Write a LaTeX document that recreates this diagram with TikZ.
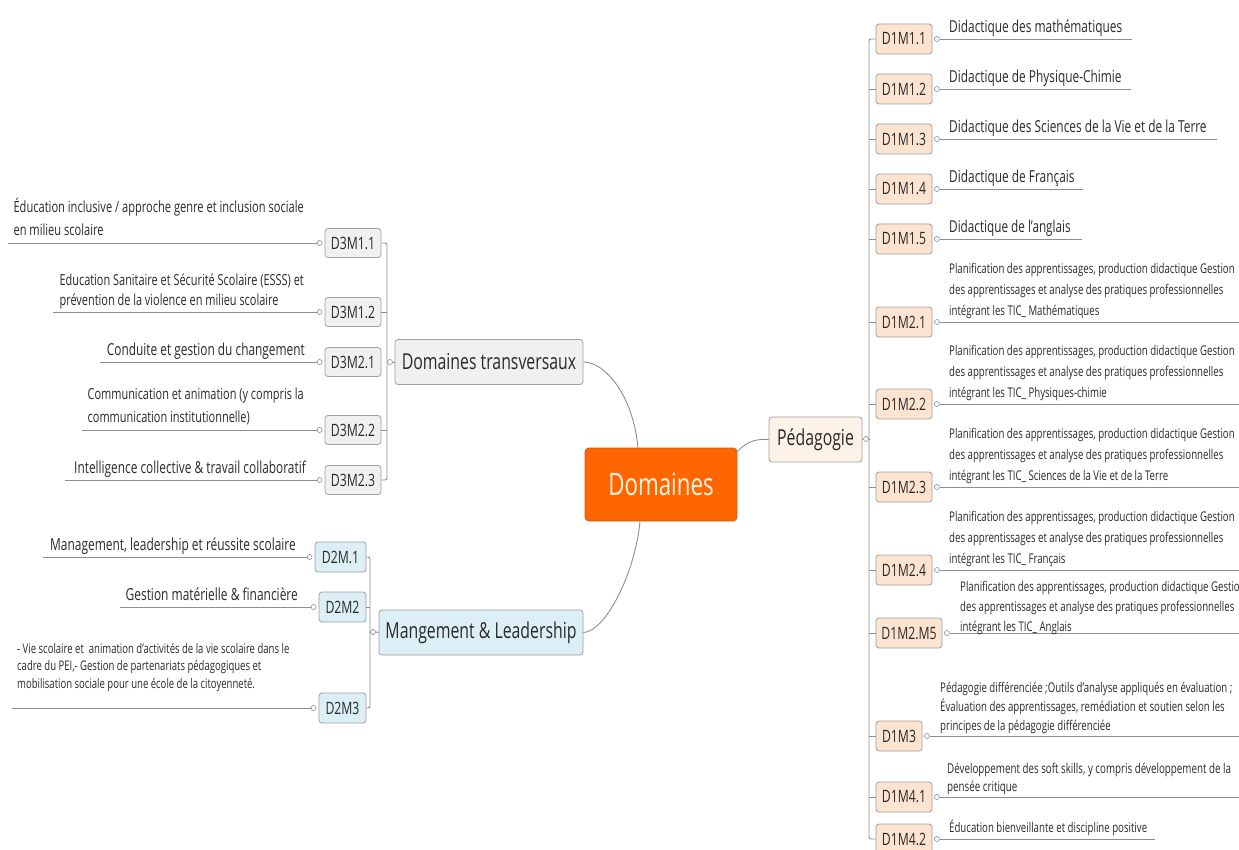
\documentclass[tikz,border=0pt]{standalone}
\usepackage{fontspec}
\setmainfont[FakeStretch=0.72]{Open Sans}
\definecolor{orng}{HTML}{FF6600}
\definecolor{orngdk}{HTML}{C8581A}
\definecolor{domtxt}{HTML}{FFF4E6}
\definecolor{peach}{HTML}{FDE4D0}
\definecolor{peachlt}{HTML}{FDF2E8}
\definecolor{grayfill}{HTML}{F0F0F0}
\definecolor{bluefill}{HTML}{DCEEF6}
\definecolor{bordergray}{HTML}{A0A0A0}
\definecolor{linegray}{HTML}{8E8E8E}
\definecolor{txt}{HTML}{2A2A2A}
\newcommand{\fsz}[2]{\fontsize{#1}{#2}\selectfont}
\begin{document}
\begin{tikzpicture}[x=1pt,y=-1pt,
  box/.style={draw=bordergray, line width=0.8pt, rounded corners=3pt, inner sep=0pt, text=txt, font=\fsz{17}{20}},
  dombox/.style={draw=orngdk, fill=orng, line width=0.8pt, rounded corners=4pt, text=domtxt, minimum width=152pt, minimum height=73pt, font=\fsz{31}{36}},
  midbox/.style={box, minimum height=45pt, font=\fsz{22}{26}},
  d1box/.style={box, fill=peach, minimum height=30pt},
  d2box/.style={box, fill=bluefill, minimum height=30pt},
  d3box/.style={box, fill=grayfill, minimum height=29pt},
  knob/.style={circle, draw=linegray, fill=white, line width=0.6pt, minimum size=5pt, inner sep=0pt},
  conn/.style={draw=linegray, line width=0.9pt},
  leafl/.style={anchor=south east, inner sep=0pt, align=left, text=txt},
  leafr/.style={anchor=south west, inner sep=0pt, align=left, text=txt}]
\useasboundingbox[fill=white] (0,0) rectangle (1239,850);

% ---- central and main branches
\node[dombox] (dom) at (661,484.5) {Domaines};
\node[midbox, fill=peachlt, minimum width=93pt] (ped) at (815.5,439.5) {Pédagogie};
\node[midbox, fill=grayfill, minimum width=188pt] (dt) at (489,362) {Domaines transversaux};
\node[midbox, fill=bluefill, minimum width=204pt] (ml) at (481,632.5) {Mangement \& Leadership};

\draw[conn] (dt.east) .. controls (605,362) and (633,395) .. ([xshift=-23pt]dom.north);
\draw[conn] ([xshift=-21pt]dom.south) .. controls (635,574) and (605,632) .. (ml.east);
\draw[conn] ([yshift=-4pt]dom.north east) .. controls (748,440) and (758,439) .. (ped.west);

% ---- knobs of main branches
\node[knob] (kped) at (866,439) {};
\node[knob] (kdt) at (390,362) {};
\node[knob] (kml) at (373,632) {};
\coordinate (b1) at (869,439);
\coordinate (b3) at (387,362);
\coordinate (b2) at (370,632);
\draw[conn] (ped.east) -- (kped.west);
\draw[conn] (kped.east) -- (b1);
\draw[conn] (dt.west) -- (kdt.east);
\draw[conn] (kdt.west) -- (b3);
\draw[conn] (ml.west) -- (kml.east);
\draw[conn] (kml.west) -- (b2);

% ==== Domaines transversaux children
\node[d3box, minimum width=56pt] (d31) at (353,243) {D3M1.1};
\node[d3box, minimum width=56pt] (d32) at (353,312) {D3M1.2};
\node[d3box, minimum width=56pt] (d33) at (353,362) {D3M2.1};
\node[d3box, minimum width=56pt] (d34) at (353,430) {D3M2.2};
\node[d3box, minimum width=56pt] (d35) at (353,480) {D3M2.3};
\draw[conn, rounded corners=2pt] (d31.east) -| (b3) |- (d35.east);
\draw[conn] (d32.east) -- (d32.east -| b3);
\draw[conn] (d34.east) -- (d34.east -| b3);
\foreach \i in {1,...,5} {\node[knob] (k3\i) at ([xshift=-5pt]d3\i.west) {};}
\coordinate (e31) at (8,243);
\coordinate (e32) at (53,312);
\coordinate (e33) at (100,362);
\coordinate (e34) at (82,430);
\coordinate (e35) at (65,480);
\foreach \i in {1,...,5} {\draw[conn] (k3\i.west) -- (e3\i);}
\node[leafl, font=\fsz{15.4}{23}] (l31) at (304,243) {Éducation inclusive / approche genre et inclusion sociale\\en milieu scolaire\strut};
\node[leafl, font=\fsz{15.2}{20}] (l32) at (304,312) {Education Sanitaire et Sécurité Scolaire (ESSS) et\\prévention de la violence en milieu scolaire\strut};
\node[leafl, font=\fsz{16.5}{21}] (l33) at (305,362) {Conduite et gestion du changement\strut};
\node[leafl, font=\fsz{15.2}{23}] (l34) at (304,430) {Communication et animation (y compris la\\communication institutionnelle)\strut};
\node[leafl, font=\fsz{16.5}{21}] (l35) at (306,480) {Intelligence collective \& travail collaboratif\strut};

% ==== Management children
\node[d2box, minimum width=51pt] (d21) at (340.5,557) {D2M.1};
\node[d2box, minimum width=47pt] (d22) at (342.5,607) {D2M2};
\node[d2box, minimum width=47pt] (d23) at (342.5,708) {D2M3};
\draw[conn, rounded corners=2pt] (d21.east) -| (b2) |- (d23.east);
\draw[conn] (d22.east) -- (d22.east -| b2);
\foreach \i in {1,2,3} {\node[knob] (k2\i) at ([xshift=-5pt]d2\i.west) {};}
\coordinate (e21) at (43,557);
\coordinate (e22) at (120,607);
\coordinate (e23) at (12,708);
\foreach \i in {1,2,3} {\draw[conn] (k2\i.west) -- (e2\i);}
\node[leafl, font=\fsz{16.6}{21}] (l21) at (296,557) {Management, leadership et réussite scolaire\strut};
\node[leafl, font=\fsz{16.6}{21}] (l22) at (298,607) {Gestion matérielle \& financière\strut};
\node[anchor=north west, inner sep=0pt, align=left, text=txt, font=\fsz{13.25}{17.5}] (l23) at (17,643) {- Vie scolaire et\ \ animation d'activités de la vie scolaire dans le\\cadre du PEI,- Gestion de partenariats pédagogiques et\\mobilisation sociale pour une école de la citoyenneté.};

% ==== Pedagogie children
\node[d1box, minimum width=56pt] (d11) at (904,39) {D1M1.1};
\node[d1box, minimum width=56pt] (d12) at (904,89) {D1M1.2};
\node[d1box, minimum width=56pt] (d13) at (904,139) {D1M1.3};
\node[d1box, minimum width=56pt] (d14) at (904,189) {D1M1.4};
\node[d1box, minimum width=56pt] (d15) at (904,239) {D1M1.5};
\node[d1box, minimum width=56pt] (d16) at (904,322) {D1M2.1};
\node[d1box, minimum width=56pt] (d17) at (904,404) {D1M2.2};
\node[d1box, minimum width=56pt] (d18) at (904,487) {D1M2.3};
\node[d1box, minimum width=56pt] (d19) at (904,570) {D1M2.4};
\node[d1box, minimum width=66pt] (d110) at (909,633) {D1M2.M5};
\node[d1box, minimum width=46pt] (d111) at (899,736) {D1M3};
\node[d1box, minimum width=56pt] (d112) at (904,797) {D1M4.1};
\node[d1box, minimum width=56pt] (d113) at (904,839) {D1M4.2};
\draw[conn, rounded corners=2pt] (d11.west) -| (b1) |- (d113.west);
\foreach \i in {2,...,12} {\draw[conn] (d1\i.west) -- (d1\i.west -| b1);}
\foreach \i in {1,...,13} {\node[knob] (k1\i) at ([xshift=4.5pt]d1\i.east) {};}
\coordinate (f11) at (1132,39);
\coordinate (f12) at (1131,89);
\coordinate (f13) at (1217,139);
\coordinate (f14) at (1083,189);
\coordinate (f15) at (1082,239);
\coordinate (f16) at (1239,322);
\coordinate (f17) at (1239,404);
\coordinate (f18) at (1239,487);
\coordinate (f19) at (1239,570);
\coordinate (f110) at (1239,633);
\coordinate (f111) at (1239,736);
\coordinate (f112) at (1239,797);
\coordinate (f113) at (1155,839);
\foreach \i in {1,...,13} {\draw[conn] (k1\i.east) -- (f1\i);}
\node[leafr, font=\fsz{16.5}{21}] (r11) at (949,39) {Didactique des mathématiques\strut};
\node[leafr, font=\fsz{16.5}{21}] (r12) at (949,89) {Didactique de Physique-Chimie\strut};
\node[leafr, font=\fsz{16.5}{21}] (r13) at (949,139) {Didactique des Sciences de la Vie et de la Terre\strut};
\node[leafr, font=\fsz{16.5}{21}] (r14) at (949,189) {Didactique de Français\strut};
\node[leafr, font=\fsz{16.3}{21}] (r15) at (949,239) {Didactique de l'anglais\strut};
\node[leafr, font=\fsz{13.4}{21}] (r16) at (949,322) {Planification des apprentissages, production didactique Gestion\\des apprentissages et analyse des pratiques professionnelles\\intégrant les TIC\_ Mathématiques\strut};
\node[leafr, font=\fsz{13.4}{21}] (r17) at (949,404) {Planification des apprentissages, production didactique Gestion\\des apprentissages et analyse des pratiques professionnelles\\intégrant les TIC\_ Physiques-chimie\strut};
\node[leafr, font=\fsz{13.4}{21}] (r18) at (949,487) {Planification des apprentissages, production didactique Gestion\\des apprentissages et analyse des pratiques professionnelles\\intégrant les TIC\_ Sciences de la Vie et de la Terre\strut};
\node[leafr, font=\fsz{13.4}{21}] (r19) at (949,570) {Planification des apprentissages, production didactique Gestion\\des apprentissages et analyse des pratiques professionnelles\\intégrant les TIC\_ Français\strut};
\node[leafr, font=\fsz{13.4}{20}] (r110) at (960,638) {Planification des apprentissages, production didactique Gestion\\des apprentissages et analyse des pratiques professionnelles\\intégrant les TIC\_ Anglais\strut};
\node[leafr, font=\fsz{13.4}{19}] (r111) at (940,736) {Pédagogie différenciée ;Outils d'analyse appliqués en évaluation ;\\Évaluation des apprentissages, remédiation et soutien selon les\\principes de la pédagogie différenciée\strut};
\node[leafr, font=\fsz{13.6}{18}] (r112) at (947,797) {Développement des soft skills, y compris développement de la\\pensée critique\strut};
\node[leafr, font=\fsz{13.4}{20}] (r113) at (949,839) {Éducation bienveillante et discipline positive\strut};
\end{tikzpicture}
\end{document}
